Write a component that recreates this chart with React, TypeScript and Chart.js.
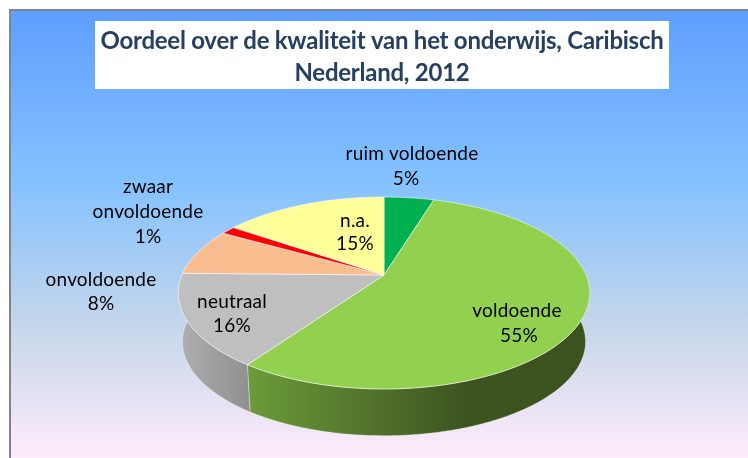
import React, { useEffect, useRef } from "react";
import { Chart, registerables } from "chart.js";

Chart.register(...registerables);

const titleLines = ["Oordeel over de kwaliteit van het onderwijs, Caribisch", "Nederland, 2012"];
const categories = ["ruim voldoende", "voldoende", "neutraal", "onvoldoende", "zwaar onvoldoende", "n.a."];
const values = [4.7, 55.0, 15.6, 7.9, 1.4, 15.4];
const sliceColors = ["#00b050", "#92d050", "#bfbfbf", "#f9be8f", "#ff0000", "#ffff99"];
const labelLines = [["ruim voldoende", "5%"], ["voldoende", "55%"], ["neutraal", "16%"], ["onvoldoende", "8%"], ["zwaar", "onvoldoende", "1%"], ["n.a.", "15%"]];
const labelAnchors = [
  [[412, 154], [406, 179]],
  [[517, 311], [519, 336]],
  [[232, 302], [232, 326]],
  [[101, 280], [101, 304]],
  [[148, 187], [148, 212], [148, 237]],
  [[355, 221], [355, 244]],
];

const APEX_X = 384, APEX_Y = 275, A = 202, B = 92.6, K = 0.1875, DEPTH = 49, BOTTOM_SCALE = 0.98;

function project(angle: number, dy = 0, s = 1): [number, number] {
  const u = Math.cos(angle), v = Math.sin(angle), w = 1 - K * v;
  return [APEX_X + (s * A * u) / w, APEX_Y + dy + (s * B * v) / w];
}

function rim(ctx: CanvasRenderingContext2D, a0: number, a1: number, dy: number, s: number, move: boolean) {
  const n = Math.max(2, Math.ceil(Math.abs(a1 - a0) / 0.01));
  for (let i = 0; i <= n; i++) {
    const p = project(a0 + ((a1 - a0) * i) / n, dy, s);
    if (i === 0 && move) ctx.moveTo(p[0], p[1]);
    else ctx.lineTo(p[0], p[1]);
  }
}

const piePlugin = {
  id: "perspectivePie",
  beforeDraw(chart: Chart) {
    const { ctx, width, height } = chart;
    (ctx as any).letterSpacing = "-0.25px";
    ctx.save();
    ctx.fillStyle = "#ffffff";
    ctx.fillRect(0, 0, width, height);
    const g = ctx.createLinearGradient(0, 10, 0, height);
    g.addColorStop(0, "#5e9eff");
    g.addColorStop(0.39, "#85c2ff");
    g.addColorStop(0.7, "#c4d6eb");
    g.addColorStop(1, "#ffebfa");
    ctx.fillStyle = g;
    ctx.fillRect(10, 10, width - 10, height - 10);
    ctx.fillStyle = "#848484";
    ctx.fillRect(9, 9, width - 9, 2);
    ctx.fillRect(9, 9, 2, height - 9);
    ctx.fillStyle = "#ffffff";
    ctx.fillRect(95, 21, 574, 68);
    ctx.restore();
  },
  beforeDatasetsDraw(chart: Chart) {
    const { ctx } = chart;
    const arcs = chart.getDatasetMeta(0).data as any[];
    ctx.save();
    arcs.forEach((arc, i) => {
      const { startAngle, endAngle } = arc;
      const a0 = Math.max(startAngle, -0.1);
      const a1 = Math.min(endAngle, Math.PI + 0.1);
      if (a1 <= a0) return;
      const g = ctx.createLinearGradient(177, 0, 589, 0);
      if (i === 1) {
        g.addColorStop(0, "#74a540");
        g.addColorStop(0.18, "#6b9a39");
        g.addColorStop(0.7, "#3d5421");
        g.addColorStop(1, "#3c5320");
      } else {
        g.addColorStop(0, "#b0b0b0");
        g.addColorStop(0.18, "#8f8f8f");
        g.addColorStop(1, "#8f8f8f");
      }
      ctx.beginPath();
      rim(ctx, a0, a1, 0, 1, true);
      rim(ctx, a1, a0, DEPTH, BOTTOM_SCALE, false);
      ctx.closePath();
      ctx.fillStyle = g;
      ctx.fill();
      ctx.strokeStyle = "rgba(255,255,255,0.35)";
      ctx.lineWidth = 1;
      ctx.stroke();
    });
    arcs.forEach((arc, i) => {
      const { startAngle, endAngle } = arc;
      ctx.beginPath();
      ctx.moveTo(APEX_X, APEX_Y);
      rim(ctx, startAngle, endAngle, 0, 1, false);
      ctx.closePath();
      ctx.fillStyle = sliceColors[i];
      ctx.fill();
      ctx.strokeStyle = "rgba(255,255,255,0.55)";
      ctx.lineWidth = 1;
      ctx.stroke();
    });
    ctx.restore();
    return false;
  },
  afterDraw(chart: Chart) {
    const { ctx } = chart;
    ctx.save();
    ctx.font = "19px Lato";
    (ctx as any).letterSpacing = "0.2px";
    ctx.fillStyle = "#000000";
    ctx.textAlign = "center";
    ctx.textBaseline = "middle";
    labelLines.forEach((lines, i) => {
      lines.forEach((t, j) => {
        const [x, y] = labelAnchors[i][j];
        ctx.fillText(t, x, y);
      });
    });
    ctx.restore();
  },
};

export default function App() {
  const ref = useRef<HTMLCanvasElement>(null);
  useEffect(() => {
    const chart = new Chart(ref.current!, {
      type: "pie",
      data: {
        labels: categories,
        datasets: [{ data: values, backgroundColor: sliceColors, borderWidth: 0 }],
      },
      options: {
        animation: false,
        responsive: false,
        layout: { padding: { left: 16, right: 0, top: 0, bottom: 0 } },
        plugins: {
          legend: { display: false },
          tooltip: { enabled: false },
          title: {
            display: true,
            text: titleLines,
            color: "#254061",
            font: { family: "Lato", weight: "bold", size: 24, lineHeight: 1.3 },
            padding: { top: 26, bottom: 8 },
          },
        },
      },
      plugins: [piePlugin],
    } as any);
    return () => chart.destroy();
  }, []);
  return (
    <div style={{ position: "fixed", left: 0, top: 0, width: 748, height: 458, overflow: "hidden" }}>
      <canvas ref={ref} width={748} height={458} style={{ display: "block" }} />
    </div>
  );
}
